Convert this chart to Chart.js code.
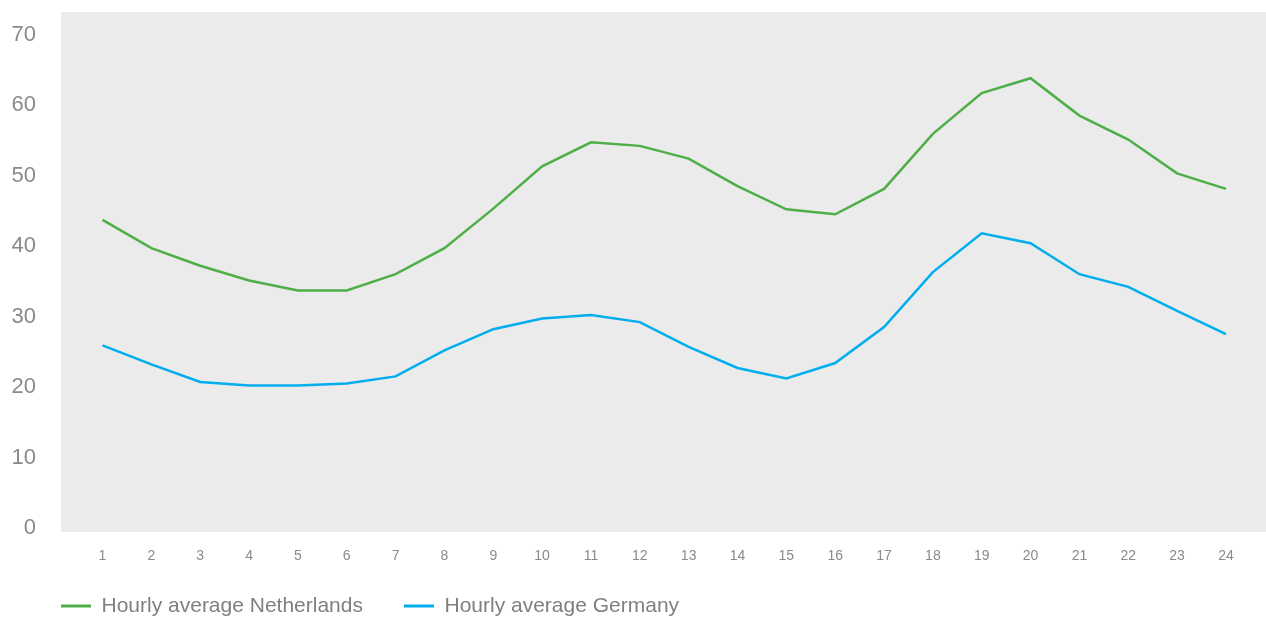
<!DOCTYPE html>
<html lang="en">
<head>
    <meta charset="UTF-8">
    <title>Hourly averages</title>
    <script src="https://cdn.jsdelivr.net/npm/chart.js"></script>
    <style>
        html, body { margin: 0; padding: 0; background: #fff; }
        #wrap { position: relative; width: 1266px; height: 619px; }
    </style>
</head>
<body>
<div id="wrap"><canvas id="hourlyChart"></canvas></div>

<script>
    // hours of the day (x axis)
    const hours = [1, 2, 3, 4, 5, 6, 7, 8, 9, 10, 11, 12, 13, 14, 15, 16, 17, 18, 19, 20, 21, 22, 23, 24];
    const yTicks = [0, 10, 20, 30, 40, 50, 60, 70];

    const netherlands = [43.7, 39.7, 37.2, 35.1, 33.7, 33.7, 36.0, 39.7, 45.3, 51.3, 54.7, 54.2,
                         52.4, 48.5, 45.2, 44.5, 48.1, 55.9, 61.7, 63.8, 58.5, 55.1, 50.3, 48.1];
    const germany = [25.9, 23.2, 20.7, 20.2, 20.2, 20.5, 21.5, 25.2, 28.2, 29.7, 30.2, 29.2,
                     25.7, 22.7, 21.2, 23.4, 28.5, 36.3, 41.8, 40.4, 36.0, 34.2, 30.8, 27.5];

    const seriesNames = ['Hourly average Netherlands', 'Hourly average Germany'];
    const green = '#4eae47';
    const blue = '#00aeef';

    // grey plot background
    const plotBackground = {
        id: 'plotBackground',
        beforeDraw(chart) {
            const {ctx, chartArea: a} = chart;
            ctx.save();
            ctx.fillStyle = '#ebebeb';
            ctx.fillRect(a.left, a.top, a.right - a.left, a.bottom - a.top);
            ctx.restore();
        }
    };

    // line the legend up with the plot's left edge, below the hour labels
    const legendPlacement = {
        id: 'legendPlacement',
        afterLayout(chart) {
            const legend = chart.legend;
            const pad = legend.options.labels.padding;
            legend.left = chart.chartArea.left - pad;
            legend.top = chart.chartArea.bottom + 22.5;
        }
    };

    const toPoints = (values) => hours.map((h, i) => ({x: h, y: values[i]}));

    new Chart(document.getElementById('hourlyChart'), {
        type: 'line',
        data: {
            datasets: [{
                label: seriesNames[0],
                data: toPoints(netherlands),
                borderColor: green,
                backgroundColor: green,
                borderWidth: 2.5,
                pointRadius: 0,
                tension: 0
            }, {
                label: seriesNames[1],
                data: toPoints(germany),
                borderColor: blue,
                backgroundColor: blue,
                borderWidth: 2.5,
                pointRadius: 0,
                tension: 0
            }]
        },
        options: {
            responsive: true,
            maintainAspectRatio: false,
            animation: false,
            layout: {
                padding: {top: 12, right: 0, left: 0, bottom: -33.8}
            },
            scales: {
                x: {
                    type: 'linear',
                    min: 0.15,
                    max: 24.82,
                    afterBuildTicks: (scale) => { scale.ticks = hours.map(v => ({value: v})); },
                    grid: {display: false, drawTicks: false},
                    border: {display: false},
                    ticks: {
                        padding: 16,
                        maxRotation: 0,
                        autoSkip: false,
                        color: '#8a8a8a',
                        font: {family: 'Liberation Sans', size: 14}
                    }
                },
                y: {
                    min: -0.57,
                    max: 73.19,
                    afterBuildTicks: (scale) => { scale.ticks = yTicks.map(v => ({value: v})); },
                    afterFit: (scale) => {
                        scale.width = 61;
                        scale.paddingTop = 0;
                        scale.paddingBottom = 0;
                    },
                    grid: {display: false, drawTicks: false},
                    border: {display: false},
                    ticks: {
                        padding: 25,
                        color: '#8a8a8a',
                        font: {family: 'Liberation Sans', size: 22},
                        callback: (v) => String(v)
                    }
                }
            },
            plugins: {
                legend: {
                    position: 'bottom',
                    align: 'start',
                    labels: {
                        boxWidth: 30,
                        boxHeight: 3,
                        padding: 41,
                        color: '#7f7f7f',
                        font: {family: 'Liberation Sans', size: 21},
                        generateLabels: (chart) => Chart.defaults.plugins.legend.labels.generateLabels(chart)
                            .map(item => Object.assign(item, {lineWidth: 0}))
                    }
                },
                tooltip: {enabled: false}
            }
        },
        plugins: [plotBackground, legendPlacement]
    });
</script>
</body>
</html>
